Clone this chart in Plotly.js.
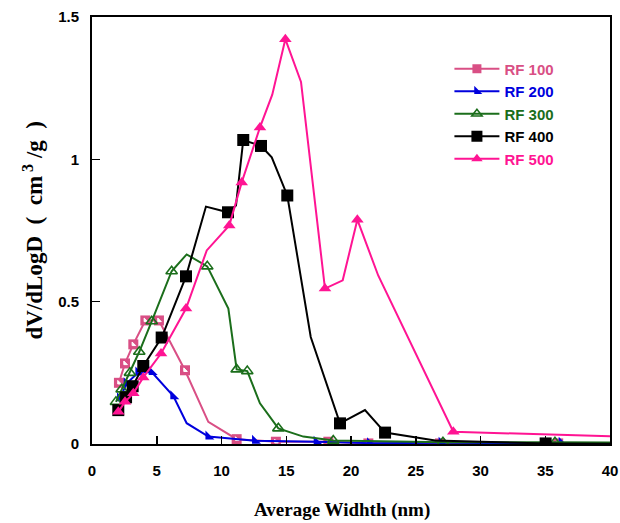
<!DOCTYPE html>
<html>
<head>
<meta charset="utf-8">
<script src="https://cdn.plot.ly/plotly-3.0.1.min.js"></script>
<style>html,body{margin:0;padding:0;background:#fff;}#chart{width:620px;height:523px;}</style>
</head>
<body>
<div id="chart"></div>
<script>
// Data
const seriesNames = ['RF 100', 'RF 200', 'RF 300', 'RF 400', 'RF 500'];

const rf100X = [2.08, 2.55, 3.19, 4.12, 5.17, 7.18, 8.98, 11.17, 14.2, 18.25, 21.34, 26.87, 36.0, 40];
const rf100Y = [0.215, 0.283, 0.35, 0.434, 0.434, 0.259, 0.078, 0.017, 0.008, 0.008, 0.002, 0.002, 0.002, 0.001];
const rf100Plain = [6, 13];

const rf200X = [2.16, 2.68, 3.58, 4.61, 6.28, 7.31, 8.99, 12.59, 17.35, 21.47, 27.0, 36.27, 40];
const rf200Y = [0.161, 0.213, 0.251, 0.253, 0.168, 0.073, 0.026, 0.011, 0.008, 0.003, 0.004, 0.004, 0.002];
const rf200Plain = [5, 12];

const rf300X = [1.85, 2.29, 2.93, 3.65, 4.61, 6.15, 7.31, 8.9, 10.53, 11.17, 11.99, 12.97, 14.39, 16.32, 18.63, 27.1, 35.75, 40];
const rf300Y = [0.148, 0.192, 0.25, 0.324, 0.431, 0.607, 0.666, 0.624, 0.476, 0.262, 0.256, 0.143, 0.055, 0.026, 0.012, 0.006, 0.006, 0.005];
const rf300Plain = [6, 8, 11, 13, 17];

const rf400X = [2.03, 2.63, 3.14, 3.96, 5.38, 7.26, 8.8, 10.5, 11.12, 11.68, 13.05, 13.88, 15.08, 16.89, 19.15, 21.08, 22.63, 26.5, 35.03, 40];
const rf400Y = [0.119, 0.164, 0.203, 0.274, 0.374, 0.589, 0.834, 0.814, 0.838, 1.068, 1.047, 1.007, 0.873, 0.376, 0.0725, 0.119, 0.04, 0.012, 0.002, 0.001];
const rf400Plain = [6, 8, 11, 13, 15, 17, 19];

const rf500X = [2.03, 2.55, 3.19, 3.96, 5.33, 7.26, 8.86, 10.6, 11.56, 12.97, 13.92, 14.93, 16.14, 17.99, 19.36, 20.49, 22.1, 27.9, 40];
const rf500Y = [0.113, 0.148, 0.178, 0.234, 0.318, 0.476, 0.68, 0.768, 0.919, 1.112, 1.227, 1.422, 1.272, 0.546, 0.575, 0.788, 0.592, 0.043, 0.027];
const rf500Plain = [6, 10, 12, 14, 16, 18];

const xTicks = [0, 5, 10, 15, 20, 25, 30, 35, 40];
const yTicks = [0, 0.5, 1, 1.5];
const yTickText = ['0', '0.5', '1', '1.5'];

// Styles
const colors = ['#d94f85', '#0000dd', '#1b6e1b', '#000000', '#ff1493'];
const symbols = ['square', 'triangle-sw', 'triangle-up-open', 'square', 'triangle-up'];
const msize = [10, 10, 10, 12, 11];
const sizesFor = (xs, plain, s) => xs.map((_, i) => plain.includes(i) ? 0 : s);
const legendName = (n, c) => '<span style="color:' + c + '">' + n + '</span>';

const series = [
  [rf100X, rf100Y, rf100Plain],
  [rf200X, rf200Y, rf200Plain],
  [rf300X, rf300Y, rf300Plain],
  [rf400X, rf400Y, rf400Plain],
  [rf500X, rf500Y, rf500Plain]
];

const traces = [];
series.forEach(([xs, ys, plain], k) => {
  traces.push({
    x: xs, y: ys, showlegend: false, mode: 'lines+markers', hoverinfo: 'skip',
    line: {color: colors[k], width: 2},
    marker: {symbol: symbols[k], size: sizesFor(xs, plain, msize[k]), color: colors[k], opacity: 1,
             line: {width: symbols[k].endsWith('open') ? 1.6 : 0, color: colors[k]}}
  });
  if (k === 0) {
    traces.push({
      x: xs, y: ys, showlegend: false, mode: 'markers', hoverinfo: 'skip',
      marker: {symbol: 'triangle-sw', size: sizesFor(xs, plain, 4), color: '#ffffff', opacity: 1}
    });
  }
});
// legend entries (constant marker size)
seriesNames.forEach((n, k) => {
  traces.push({
    x: [null], y: [null], name: legendName(n, colors[k]), mode: 'lines+markers',
    line: {color: colors[k], width: 2},
    marker: {symbol: symbols[k], size: msize[k] - 1, color: colors[k],
             line: {width: symbols[k].endsWith('open') ? 1.6 : 0, color: colors[k]}}
  });
});

const tickFont = {family: 'Liberation Sans, Arial, sans-serif', size: 15, color: '#000', weight: 'bold'};
const titleFont = {family: 'Liberation Serif, Times New Roman, serif', size: 19, color: '#000', weight: 'bold'};

const layout = {
  width: 620, height: 523,
  margin: {l: 92, r: 10, t: 17, b: 79},
  paper_bgcolor: '#fff', plot_bgcolor: '#fff',
  showlegend: true,
  legend: {
    x: 0.69, y: 0.917, xanchor: 'left', yanchor: 'top',
    bgcolor: 'rgba(0,0,0,0)', borderwidth: 0,
    font: {family: 'Liberation Sans, Arial, sans-serif', size: 15, weight: 'bold'},
    itemwidth: 45, tracegroupgap: 0
  },
  xaxis: {
    range: [0, 40], tickvals: xTicks, ticktext: xTicks.map(String),
    ticks: 'inside', ticklen: 8, tickwidth: 1.5, tickcolor: '#000',
    showline: true, linecolor: '#000', linewidth: 2, mirror: true,
    showgrid: false, zeroline: false, tickfont: tickFont, ticklabelstandoff: 12,
    fixedrange: true
  },
  yaxis: {
    range: [0, 1.5], tickvals: yTicks, ticktext: yTickText,
    ticks: 'inside', ticklen: 8, tickwidth: 1.5, tickcolor: '#000',
    showline: true, linecolor: '#000', linewidth: 2, mirror: true,
    showgrid: false, zeroline: false, tickfont: tickFont, ticklabelstandoff: 8,
    fixedrange: true
  },
  annotations: [
    {
      text: 'Average Widhth (nm)', xref: 'paper', yref: 'paper', x: 0.5, y: 0,
      xanchor: 'center', yanchor: 'middle', xshift: -9, yshift: -66, showarrow: false, font: titleFont
    },
    {
      text: 'dV/dLogD  (  cm<sup> 3</sup> /g  )', xref: 'paper', yref: 'paper', x: 0, y: 0.5,
      xanchor: 'center', yanchor: 'middle', xshift: -59, textangle: -90, showarrow: false,
      font: Object.assign({}, titleFont, {size: 23})
    }
  ]
};

Plotly.newPlot('chart', traces, layout, {displayModeBar: false, staticPlot: true});
</script>
</body>
</html>
